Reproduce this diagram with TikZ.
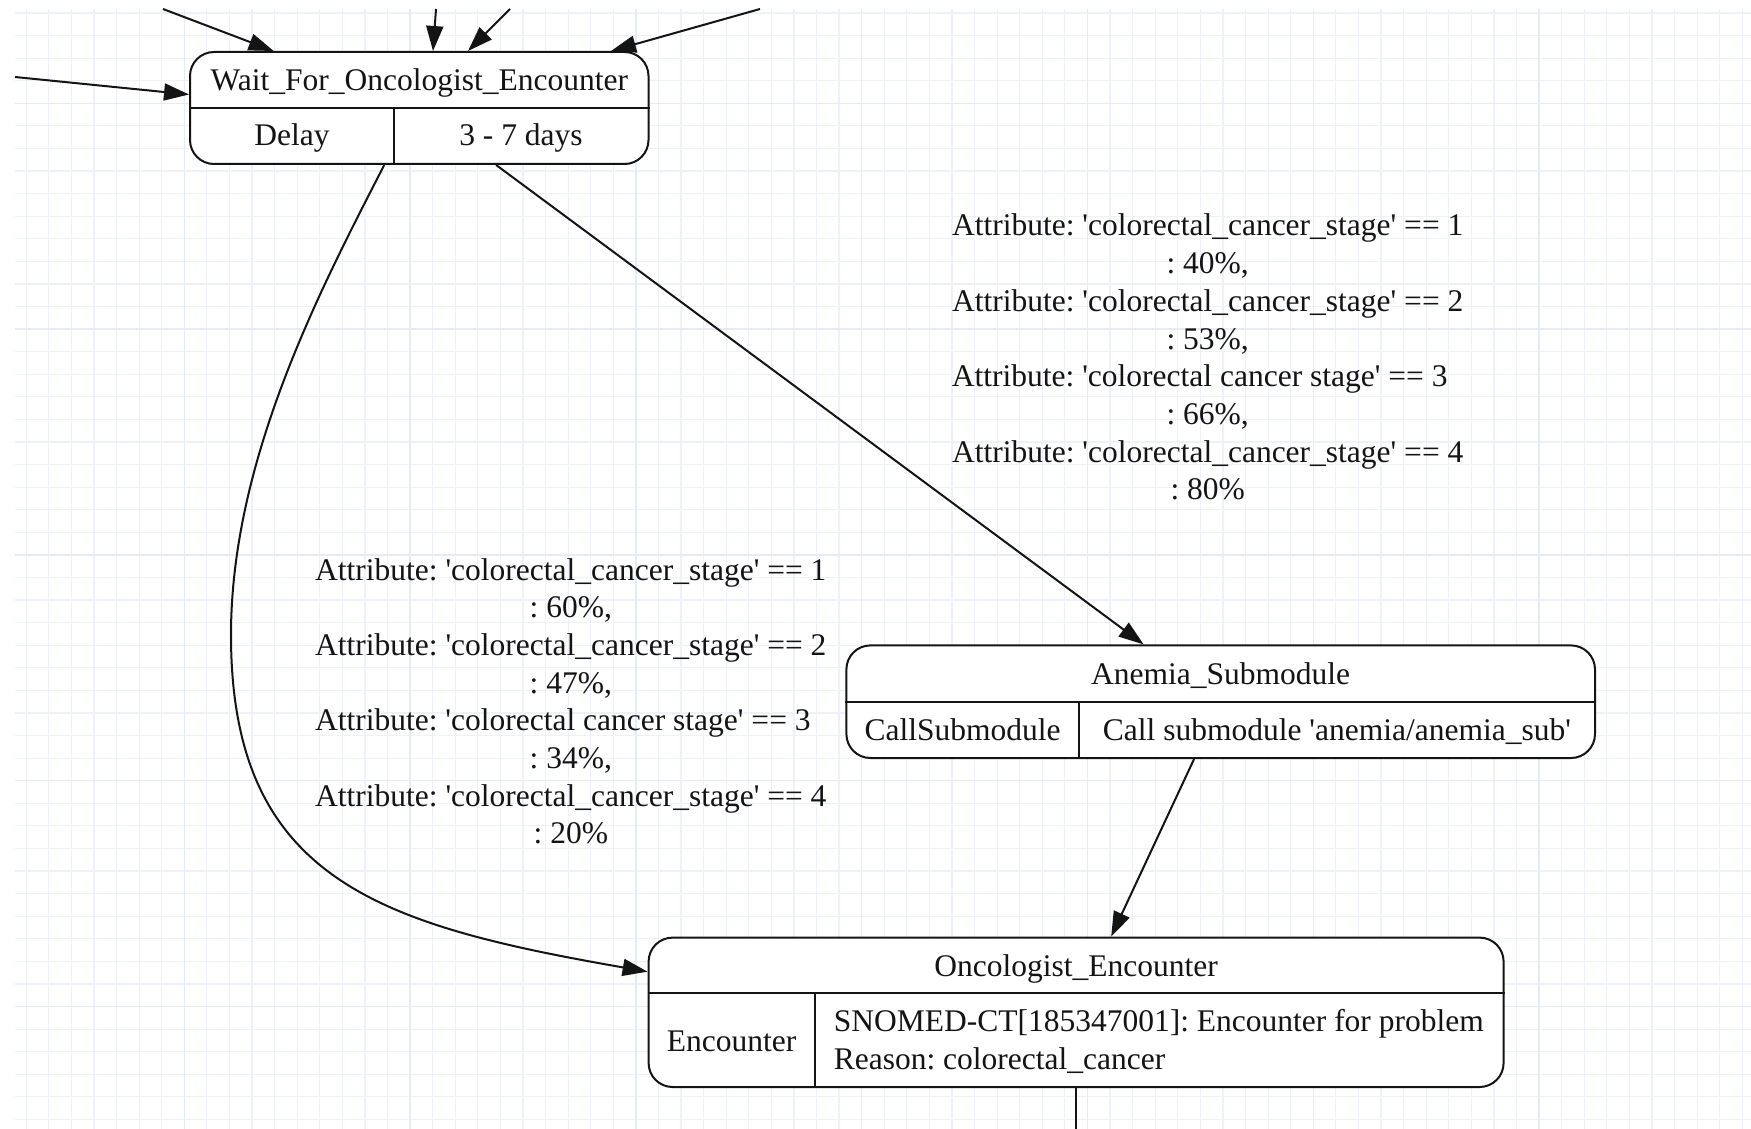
\documentclass[tikz,border=0pt]{standalone}
\usepackage{fontspec}
\setmainfont{Liberation Serif}
\usetikzlibrary{arrows.meta,calc}
\newcommand{\myq}{\textquotesingle}
\definecolor{gridminor}{RGB}{238,242,248}
\definecolor{gridmajor}{RGB}{229,236,245}
\definecolor{ink}{RGB}{20,20,20}
\frenchspacing
\begin{document}
\begin{tikzpicture}[x=1pt,y=-1pt,
  every node/.style={font=\fontsize{31.5}{37.7}\selectfont, text=ink},
  rec/.style={draw=ink, line width=2pt, rounded corners=24pt, fill=white, inner sep=0pt},
  txt/.style={inner sep=0pt, anchor=base},
  lbl/.style={inner sep=0pt, align=center},
  edge/.style={draw=ink, line width=2pt, -{Triangle[length=25pt,width=17pt]}},
  divider/.style={draw=ink, line width=2pt},
]
\useasboundingbox (0,0) rectangle (1751,1129);
\fill[white] (0,0) rectangle (1751,1129);
% grid
\foreach \i in {0,...,76} {\draw[gridminor, line width=1.2pt] ({26.2+22.58*\i},9) -- ({26.2+22.58*\i},1129);}
\foreach \i in {0,...,49} {\draw[gridminor, line width=1.2pt] (15,{13+22.58*\i}) -- (1751,{13+22.58*\i});}
\foreach \i in {0,...,6} {\draw[gridmajor, line width=1.4pt] ({184.3+225.8*\i},9) -- ({184.3+225.8*\i},1129);}
\foreach \i in {0,...,4} {\draw[gridmajor, line width=1.4pt] (15,{103.3+225.8*\i}) -- (1751,{103.3+225.8*\i});}

% nodes
\node[rec, minimum width=458.5pt, minimum height=112pt] (w) at (419.25,108) {};
\draw[divider] (w.west) -- (w.east);
\draw[divider] ([xshift=-25.25pt]w.center) -- ([xshift=-25.25pt]w.south);
\node[txt] (wt) at (419.25,90.5) {Wait\_For\_Oncologist\_Encounter};
\node[txt] (wk) at (292,145.5) {Delay};
\node[txt] (wv) at (521,145.5) {3 - 7 days};

\node[rec, minimum width=748.6pt, minimum height=112.6pt] (a) at (1220.7,701.7) {};
\draw[divider] (a.west) -- (a.east);
\draw[divider] ([xshift=-141.9pt]a.center) -- ([xshift=-141.9pt]a.south);
\node[txt] (at) at (1220.7,684.5) {Anemia\_Submodule};
\node[txt] (ak) at (962.6,740.5) {CallSubmodule};
\node[txt] (av) at (1336.9,740.5) {Call submodule \myq anemia/anemia\_sub\myq};

\node[rec, minimum width=855pt, minimum height=149.4pt] (o) at (1076.1,1012.3) {};
\draw[divider] ([yshift=19.6pt]o.west) -- ([yshift=19.6pt]o.east);
\draw[divider] ([xshift=-261.4pt,yshift=19.6pt]o.center) -- ([xshift=-261.4pt]o.south);
\node[txt] (ot) at (1076.1,976.3) {Oncologist\_Encounter};
\node[txt] (ok) at (731.6,1051.5) {Encounter};
\node[inner sep=0pt, align=left, anchor=west, font=\fontsize{31.5}{38.3}\selectfont] (ov) at (833.6,1041.6)
  {SNOMED-CT[185347001]: Encounter for problem\\Reason: colorectal\_cancer};

% edge labels
\node[lbl] (lr) at (1207.7,357.2) {Attribute: \myq colorectal\_cancer\_stage\myq{} == 1\\: 40\%,\\Attribute: \myq colorectal\_cancer\_stage\myq{} == 2\\: 53\%,\\Attribute: \myq colorectal cancer stage\myq{} == 3\rule{16pt}{0pt}\\: 66\%,\\Attribute: \myq colorectal\_cancer\_stage\myq{} == 4\\: 80\%};
\node[lbl] (ll) at (570.8,701.3) {Attribute: \myq colorectal\_cancer\_stage\myq{} == 1\\: 60\%,\\Attribute: \myq colorectal\_cancer\_stage\myq{} == 2\\: 47\%,\\Attribute: \myq colorectal cancer stage\myq{} == 3\rule{16pt}{0pt}\\: 34\%,\\Attribute: \myq colorectal\_cancer\_stage\myq{} == 4\\: 20\%};

% incoming edges (free ends)
\coordinate (in1) at (163,9);
\coordinate (in2) at (436,9);
\coordinate (in3) at (510,9);
\coordinate (in4) at (760,9);
\coordinate (in5) at (15,77);
\coordinate (oend) at (1076.1,1129);
\draw[edge] (in1) -- ([xshift=-145.6pt]w.north);
\draw[edge] (in2) -- ([xshift=13.75pt]w.north);
\draw[edge] (in3) -- ([xshift=48.75pt]w.north);
\draw[edge] (in4) -- ([xshift=191.75pt]w.north);
\draw[edge] (in5) -- ([yshift=13.5pt]w.west);

% edges
\draw[edge] ([xshift=-35pt]w.south) .. controls (320,290) and (231,460) .. (231,635)
  .. controls (231,880) and (380,925) .. ([yshift=40.6pt]o.west);
\draw[edge] (w) -- (a);
\draw[edge] (a) -- (o);
\draw[divider] (o.south) -- (oend);
\end{tikzpicture}
\end{document}
